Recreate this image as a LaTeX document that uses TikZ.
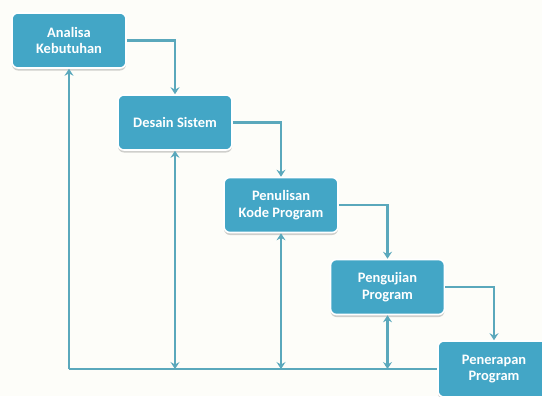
\documentclass[tikz,border=0pt]{standalone}
\usepackage{fontspec}
\setmainfont{Carlito}
\usetikzlibrary{arrows.meta,shadows}
\definecolor{boxfill}{HTML}{43A6C6}
\definecolor{flowline}{HTML}{5AA8BC}
\definecolor{paper}{HTML}{FDFDF9}
\tikzset{
  stage/.style={draw=white, line width=1.6bp, fill=boxfill, rounded corners=6bp,
    minimum width=114bp, minimum height=55bp, align=center, text=white,
    font=\fontsize{14.5}{16.5}\selectfont\bfseries,
    drop shadow={shadow xshift=0bp, shadow yshift=-2.5bp, fill=black, opacity=0.18}},
  flow/.style={draw=flowline, line width=2.4bp},
  tip/.style={-{Stealth[length=7bp,width=9bp,inset=2.5bp]}},
  tips/.style={{Stealth[length=7bp,width=9bp,inset=2.5bp]}-{Stealth[length=7bp,width=9bp,inset=2.5bp]}}
}
\begin{document}
\begin{tikzpicture}[x=1bp,y=-1bp]
  \useasboundingbox (0,0) rectangle (542,396);
  \clip (0,0) rectangle (542,396);
  \fill[paper] (0,0) rectangle (542,396);

  % process stages
  \node[stage] (A) at (69,40.5) {Analisa\\Kebutuhan};
  \node[stage] (D) at (175,122.5) {Desain Sistem};
  \node[stage] (P) at (281,205) {Penulisan\\Kode Program};
  \node[stage] (U) at (387.5,287) {Pengujian\\Program};
  \node[stage, minimum width=112bp, minimum height=56bp] (R) at (494,369) {Penerapan\\Program};

  % forward flow between stages
  \draw[flow,tip] (A.east) -| (D.north);
  \draw[flow,tip] (D.east) -| (P.north);
  \draw[flow,tip] (P.east) -| (U.north);
  \draw[flow,tip] (U.east) -| (R.north);

  % feedback bus along the bottom
  \coordinate (bus) at (A.south |- R.west);
  \draw[flow] (bus) -- (R.west);
  \draw[flow,tip] (bus) -- (A.south);
  \draw[flow,tips] (D.south) -- (D.south |- R.west);
  \draw[flow,tips] (P.south) -- (P.south |- R.west);
  \draw[flow,tips] (U.south) -- (U.south |- R.west);
\end{tikzpicture}
\end{document}
